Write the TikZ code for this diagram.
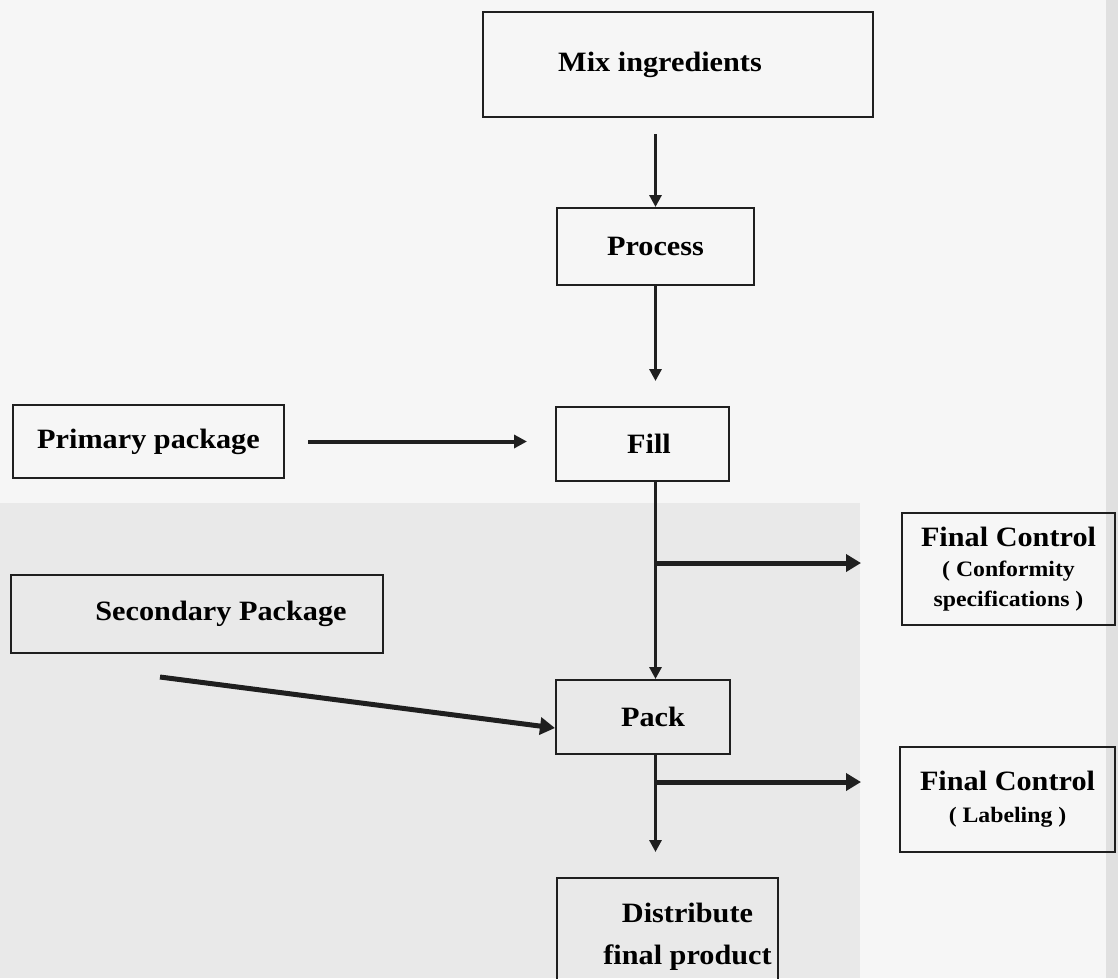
\documentclass[tikz,border=0pt]{standalone}
\usepackage{fontspec}
\usepackage{graphicx}
\setmainfont{Liberation Serif}
\usetikzlibrary{arrows.meta,calc}
\newcommand{\sx}[1]{\scalebox{1.08}[1]{#1}}
\begin{document}
\begin{tikzpicture}[x=1pt,y=-1pt,
  box/.style={draw=black!88, line width=2pt, inner sep=0pt, anchor=center, align=center,
              font=\bfseries\fontsize{28}{42}\selectfont},
  arr/.style={draw=black!88, line width=3pt, -{Triangle[length=12pt,width=12pt]}},
  thickarr/.style={draw=black!88, line width=5pt, -{Triangle[length=15pt,width=17pt]}}]
\useasboundingbox (0,0) rectangle (1118,978);
\clip (0,0) rectangle (1118,978);
% background of the scan
\fill[gray!7] (0,0) rectangle (1118,978);
\fill[gray!17] (0,503) rectangle (860,978);
\fill[gray!24] (1106,0) rectangle (1118,978);

% boxes
\node[box, minimum width=390pt, minimum height=105pt] (mix) at (678,64.5) {\sx{Mix ingredients}\hspace*{36pt}};
\node[box, minimum width=197pt, minimum height=77pt] (process) at (655.5,246.5) {\sx{Process}};
\node[box, minimum width=173pt, minimum height=74pt] (fill) at (642.5,444) {\hspace*{13pt}\sx{Fill}};
\node[box, minimum width=271pt, minimum height=73pt] (primary) at (148.5,441.5) {\sx{Primary package}};
\node[box, minimum width=372pt, minimum height=78pt] (secondary) at (197,614) {\hspace*{48pt}\sx{Secondary Package}};
\node[box, minimum width=174pt, minimum height=74pt] (pack) at (643,717) {\hspace*{20pt}\sx{Pack}};
\node[box, minimum width=221pt, minimum height=118pt] (distr) at (667.5,937) {\hspace*{40pt}\sx{Distribute}\\\hspace*{40pt}\sx{final product}};
\node[box, minimum width=213pt, minimum height=112pt, font=\bfseries\fontsize{22}{30}\selectfont] (fc1) at (1008.5,569)
  {\sx{\fontsize{28}{30}\selectfont Final Control}\\\sx{( Conformity}\\\sx{specifications )}};
\node[box, minimum width=215pt, minimum height=105pt, font=\bfseries\fontsize{22}{32}\selectfont] (fc2) at (1007.5,799.5)
  {\sx{\fontsize{28}{32}\selectfont Final Control}\\\sx{( Labeling )}};

% connectors
\draw[arr, shorten <=16pt] (mix.south -| process.north) -- (process.north);
\draw[arr, shorten >=25pt] (process.south) -- (fill.north -| process.south);
\draw[arr] (fill.south -| process.south) -- (pack.north -| process.south);
\draw[arr, shorten >=25pt] (pack.south -| process.south) -- (distr.north -| process.south);
\draw[draw=black!88, line width=4pt, -{Triangle[length=13pt,width=13pt]}, shorten <=23pt, shorten >=28pt]
  (primary.east) -- (primary.east -| fill.west);

\coordinate (secstart) at (160,677);
\draw[thickarr] (secstart) -- ([yshift=-11pt]pack.west);

\coordinate (b1) at (655.5,563);
\coordinate (b2) at (655.5,782);
\draw[thickarr, shorten >=40pt] (b1) -- (b1 -| fc1.west);
\draw[thickarr, shorten >=38pt] (b2) -- (b2 -| fc2.west);
\end{tikzpicture}
\end{document}
